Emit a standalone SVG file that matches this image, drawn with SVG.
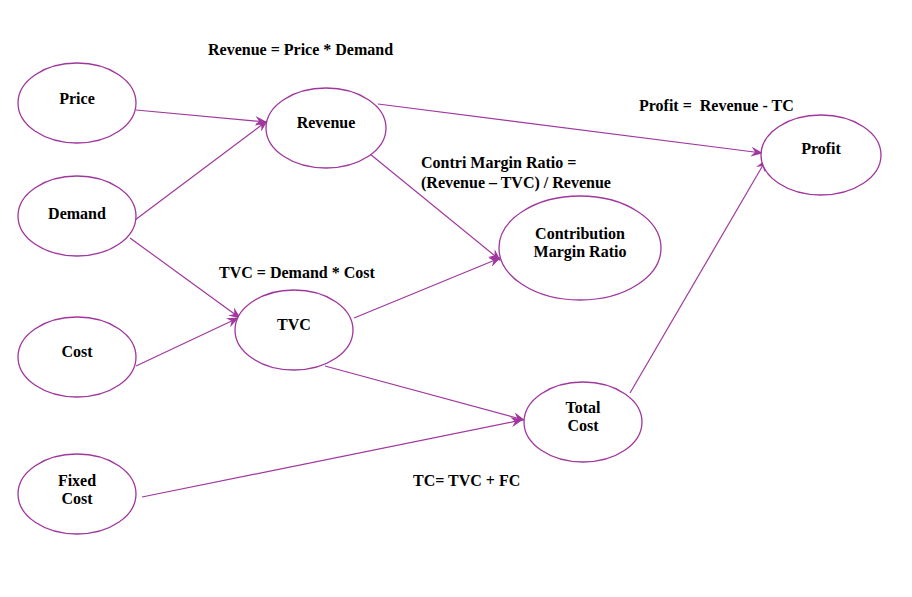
<svg xmlns="http://www.w3.org/2000/svg" width="912" height="597" viewBox="0 0 912 597">
<defs>
<style>
.n{fill:#fff;stroke:#a0379e;stroke-width:1.3}
.c{stroke:#a0379e;stroke-width:1.2;fill:none;marker-end:url(#a)}
text{font-family:'Liberation Serif','DejaVu Serif',serif;font-weight:bold;font-size:16px;fill:#000}
.m{text-anchor:middle}
</style>
<marker id="a" viewBox="0 0 12 10" refX="11" refY="5" markerWidth="12" markerHeight="10" markerUnits="userSpaceOnUse" orient="auto">
<path d="M0,0 L12,5 L0,10 L4,5 Z" fill="#a0379e"/>
</marker>
</defs>
<rect width="912" height="597" fill="#fff"/>
<g id="connectors">
<line class="c" x1="136" y1="110" x2="266" y2="122"/>
<line class="c" x1="135" y1="220" x2="267" y2="121"/>
<line class="c" x1="378" y1="104" x2="762" y2="153"/>
<line class="c" x1="370" y1="154" x2="500" y2="260"/>
<line class="c" x1="130" y1="238" x2="240" y2="318"/>
<line class="c" x1="136" y1="366" x2="238" y2="318"/>
<line class="c" x1="354" y1="318" x2="500" y2="258"/>
<line class="c" x1="325" y1="366" x2="524" y2="420"/>
<line class="c" x1="142" y1="497" x2="522" y2="420"/>
<line class="c" x1="630" y1="393" x2="766" y2="160"/>
</g>
<g id="price"><ellipse class="n" cx="77" cy="103" rx="59" ry="40"/><text class="m" x="77" y="104">Price</text></g>
<g id="demand"><ellipse class="n" cx="77" cy="216" rx="59" ry="40"/><text class="m" x="77" y="219">Demand</text></g>
<g id="cost"><ellipse class="n" cx="77" cy="357" rx="59" ry="40"/><text class="m" x="77" y="357">Cost</text></g>
<g id="fixedcost"><ellipse class="n" cx="77" cy="494" rx="59" ry="40"/><text class="m" x="77" y="486">Fixed</text><text class="m" x="77" y="504">Cost</text></g>
<g id="revenue"><ellipse class="n" cx="326" cy="128" rx="60" ry="40"/><text class="m" x="326" y="128">Revenue</text></g>
<g id="tvc"><ellipse class="n" cx="294" cy="330" rx="59" ry="40"/><text class="m" x="294" y="330">TVC</text></g>
<g id="cmr"><ellipse class="n" cx="580" cy="248" rx="81" ry="52"/><text class="m" x="580" y="239">Contribution</text><text class="m" x="580" y="257">Margin Ratio</text></g>
<g id="totalcost"><ellipse class="n" cx="583" cy="422" rx="59" ry="40"/><text class="m" x="583" y="413">Total</text><text class="m" x="583" y="431">Cost</text></g>
<g id="profit"><ellipse class="n" cx="821" cy="155" rx="60" ry="40"/><text class="m" x="821" y="154">Profit</text></g>
<g id="labels">
<text x="208" y="55">Revenue = Price * Demand</text>
<text x="639" y="111" xml:space="preserve">Profit =  Revenue - TC</text>
<text x="421" y="168">Contri Margin Ratio =</text>
<text x="421" y="188">(Revenue – TVC) / Revenue</text>
<text x="219" y="278">TVC = Demand * Cost</text>
<text x="413" y="486">TC= TVC + FC</text>
</g>
</svg>
